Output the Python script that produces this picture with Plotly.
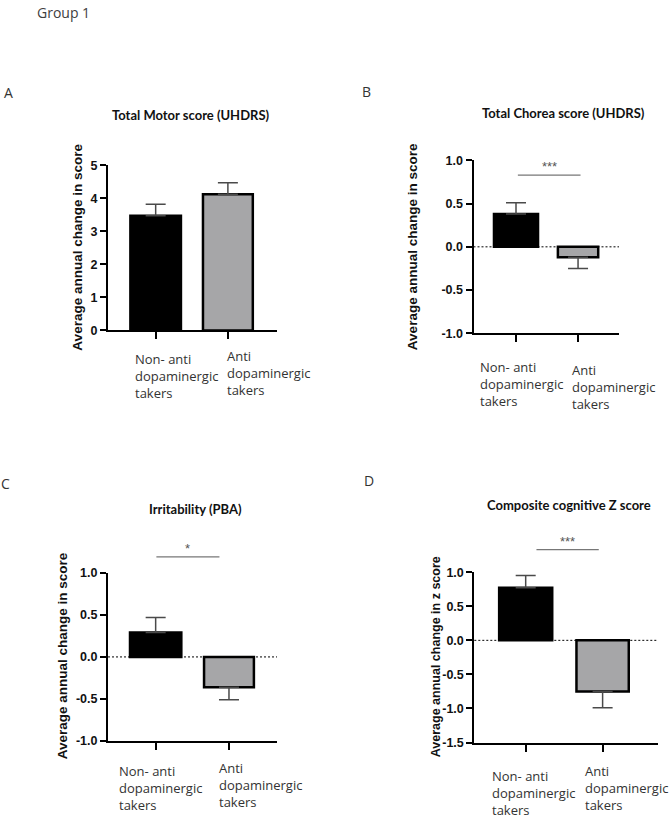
import plotly.graph_objects as go

# ---------------- data ----------------
groups = ["Non- anti<br>dopaminergic<br>takers", "Anti<br>dopaminergic<br>takers"]

panel_letters = ["A", "B", "C", "D"]
panel_titles = ["Total Motor score (UHDRS)", "Total Chorea score (UHDRS)",
                "Irritability (PBA)", "Composite cognitive Z score"]
y_titles = ["Average annual change in score", "Average annual change in score",
            "Average annual change in score", "Average annual change in z score"]

motor_mean = [3.47, 4.12]
motor_sem = [0.35, 0.35]
chorea_mean = [0.38, -0.12]
chorea_sem = [0.13, 0.13]
irrit_mean = [0.29, -0.36]
irrit_sem = [0.18, 0.15]
cog_mean = [0.77, -0.75]
cog_sem = [0.18, 0.24]

means = [motor_mean, chorea_mean, irrit_mean, cog_mean]
sems = [motor_sem, chorea_sem, irrit_sem, cog_sem]

# significance: label, y level, x start, x end (data units); None = no bracket
sig_labels = [None, "***", "*", "***"]
sig_levels = [None, 0.83, 1.19, 1.33]
sig_x_start = [None, 0.03, 0.01, 0.14]
sig_x_end = [None, 1.04, 0.87, 0.95]

y_ticks = [[0, 1, 2, 3, 4, 5],
           [-1.0, -0.5, 0.0, 0.5, 1.0],
           [-1.0, -0.5, 0.0, 0.5, 1.0],
           [-1.5, -1.0, -0.5, 0.0, 0.5, 1.0]]
y_tick_text = [["0", "1", "2", "3", "4", "5"],
               ["-1.0", "-0.5", "0.0", "0.5", "1.0"],
               ["-1.0", "-0.5", "0.0", "0.5", "1.0"],
               ["-1.5", "-1.0", "-0.5", "0.0", "0.5", "1.0"]]

# ---------------- layout geometry (pixels) ----------------
W, H = 671, 821


def fx(p):
    return p / W


def fy(p):
    return 1 - p / H


# axis box: (left, right, top, bottom) px
boxes = [(108, 277, 161, 329), (473.5, 619, 156, 332),
         (108, 277, 575.7, 746.7), (474.3, 658, 575, 748.3)]
x_ranges = [[-0.66, 1.68], [-0.685, 1.66], [-0.65, 1.655], [-0.668, 1.72]]
bar_widths = [[0.70, 0.69], [0.71, 0.65], [0.70, 0.68], [0.69, 0.68]]

title_pos = [(191, 110), (563, 108), (195.5, 511), (569, 507)]
letter_pos = [(8, 87), (366, 86), (5, 485), (368.7, 482)]
ytitle_pos = [(77.3, 244.5), (413.3, 244), (62, 660.5), (435.5, 661)]
# category labels: left x, middle-line y
cat_pos = [[(133, 375), (225, 372)], [(478, 384), (570, 387)],
           [(116.7, 795), (216.7, 792)], [(490, 800), (583, 795)]]

BLACK = "#000000"
GRAY = "#a6a6a8"
ERR = "#4a4a4a"
TXT = "#333333"
LABEL_FONT = "Open Sans, Carlito, sans-serif"

fig = go.Figure()
layout = dict(
    width=W, height=H, margin=dict(l=0, r=0, t=0, b=0),
    paper_bgcolor="white", plot_bgcolor="rgba(0,0,0,0)",
    showlegend=False,
)
annotations = []
shapes = []

for i in range(4):
    n = i + 1
    xa = "x" if n == 1 else f"x{n}"
    ya = "y" if n == 1 else f"y{n}"
    ya_sig = f"y{n + 4}"
    l, r, t, b = boxes[i]
    m = means[i]
    s = sems[i]
    up = [v if mv > 0 else 0 for mv, v in zip(m, s)]
    dn = [v if mv < 0 else 0 for mv, v in zip(m, s)]
    lo, hi = y_ticks[i][0], y_ticks[i][-1]

    fig.add_trace(go.Bar(
        x=[0, 1], y=m, width=bar_widths[i],
        marker=dict(color=[BLACK, GRAY], line=dict(color=BLACK, width=2.5)),
        error_y=dict(type="data", symmetric=False, array=up, arrayminus=dn,
                     color=ERR, thickness=1.5, width=10),
        xaxis=xa, yaxis=ya, hoverinfo="skip",
    ))

    layout[("xaxis" if n == 1 else f"xaxis{n}")] = dict(
        domain=[fx(l), fx(r)], range=x_ranges[i], anchor=ya,
        tickvals=[0, 1], showticklabels=False, ticks="outside", ticklen=7,
        tickwidth=2, tickcolor=BLACK, showline=True, linecolor=BLACK,
        linewidth=2, showgrid=False, zeroline=False, fixedrange=True,
    )
    layout[("yaxis" if n == 1 else f"yaxis{n}")] = dict(
        domain=[fy(b), fy(t)], range=[lo, hi], anchor=xa,
        tickmode="array", tickvals=y_ticks[i], ticktext=y_tick_text[i],
        ticks="outside", ticklen=6, tickwidth=2, tickcolor=BLACK,
        showline=True, linecolor=BLACK, linewidth=2, showgrid=False,
        zeroline=False,
        tickfont=dict(family="Liberation Sans, Arial", size=12.5, color="#111111",
                      weight="bold"),
        fixedrange=True,
    )

    # extended invisible axis (same scale) for the significance bracket
    scale = (hi - lo) / (b - t)
    ext_top = t - 60
    layout[f"yaxis{n + 4}"] = dict(
        domain=[fy(b), fy(ext_top)], range=[lo, lo + scale * (b - ext_top)],
        anchor=xa, visible=False, fixedrange=True,
    )

    if lo < 0:
        shapes.append(dict(type="line", xref=f"{xa} domain", yref=ya,
                           x0=0, x1=1, y0=0, y1=0,
                           line=dict(color=BLACK, width=1, dash="2px,2px")))

    if sig_labels[i]:
        fig.add_trace(go.Scatter(
            x=[sig_x_start[i], sig_x_end[i]], y=[sig_levels[i], sig_levels[i]],
            mode="lines", line=dict(color="#777777", width=1.2),
            xaxis=xa, yaxis=ya_sig, hoverinfo="skip",
        ))
        annotations.append(dict(
            text=sig_labels[i], x=(sig_x_start[i] + sig_x_end[i]) / 2,
            y=sig_levels[i], xref=xa, yref=ya_sig, showarrow=False,
            yanchor="bottom", yshift=-1,
            font=dict(family="Liberation Sans, Arial", size=13, color="#555555"),
        ))

    # title
    annotations.append(dict(
        text=f"<b>{panel_titles[i]}</b>", x=fx(title_pos[i][0]), y=fy(title_pos[i][1]),
        xref="paper", yref="paper", showarrow=False, xanchor="center",
        yanchor="middle", font=dict(family="Lato, Carlito, sans-serif", size=13,
                                    color="#111111"),
    ))
    # panel letter
    annotations.append(dict(
        text=panel_letters[i], x=fx(letter_pos[i][0]), y=fy(letter_pos[i][1]),
        xref="paper", yref="paper", showarrow=False, xanchor="center",
        yanchor="middle", font=dict(family=LABEL_FONT, size=14, color=TXT),
    ))
    # y title
    annotations.append(dict(
        text=f"<b>{y_titles[i]}</b>", x=fx(ytitle_pos[i][0]), y=fy(ytitle_pos[i][1]),
        xref="paper", yref="paper", showarrow=False, textangle=-90,
        xanchor="center", yanchor="middle",
        font=dict(family="Liberation Sans, Arial", size=13.5 if i < 3 else 12.5,
                  color="#111111"),
    ))
    # category labels (multi-line, left aligned)
    for k in range(2):
        cx, cy = cat_pos[i][k]
        annotations.append(dict(
            text=groups[k], x=fx(cx), y=fy(cy), xref="paper", yref="paper",
            showarrow=False, xanchor="left", yanchor="middle", align="left",
            font=dict(family=LABEL_FONT, size=13, color=TXT),
        ))

annotations.append(dict(
    text="Group 1", x=fx(35), y=fy(6), xref="paper", yref="paper",
    showarrow=False, xanchor="left", yanchor="middle",
    font=dict(family=LABEL_FONT, size=14, color="#404040"),
))

layout["annotations"] = annotations
layout["shapes"] = shapes
fig.update_layout(**layout)

page_fix = (
    "document.documentElement.style.margin='0';"
    "document.body.style.margin='0';document.body.style.padding='0';"
    "document.documentElement.style.overflow='hidden';"
    "var gd=document.getElementById('{plot_id}');"
    "gd.style.position='absolute';gd.style.left='0px';gd.style.top='0px';"
    "window.scrollTo(0,0);"
)
fig.write_html("out.html", config={"displayModeBar": False}, post_script=page_fix)
